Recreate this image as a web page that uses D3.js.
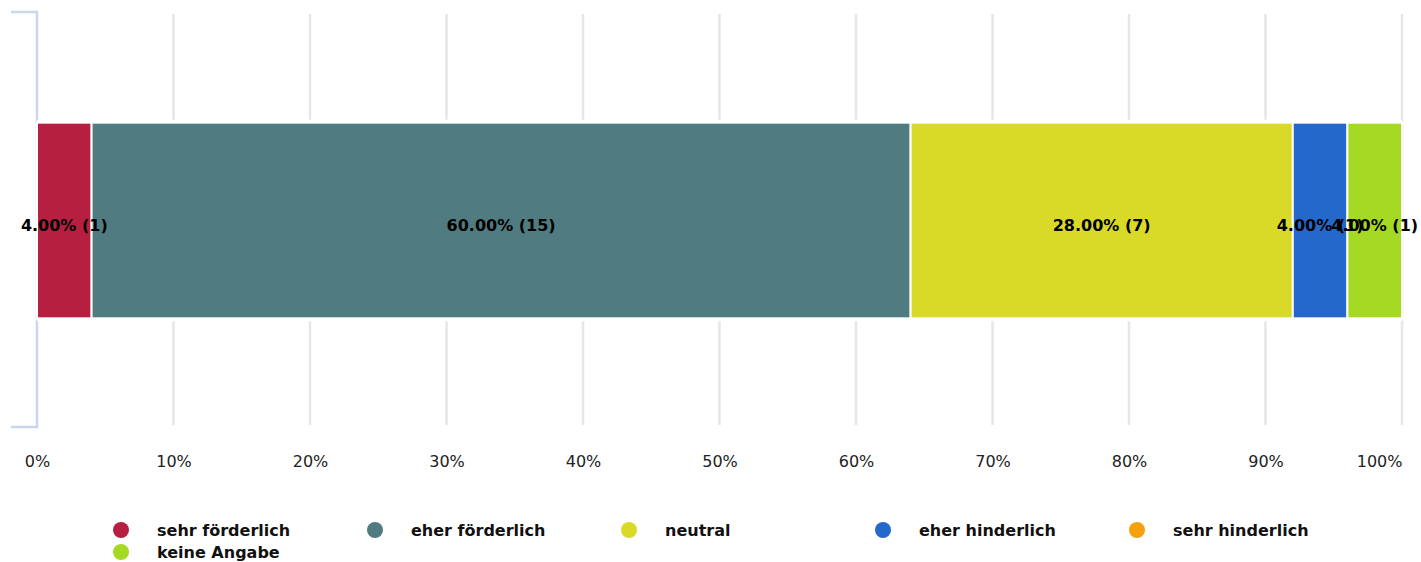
<!DOCTYPE html>
<html lang="de">
<head>
  <meta charset="UTF-8">
  <title>Bewertung</title>
  <script src="https://d3js.org/d3.v7.min.js"></script>
  <style>
    body { margin: 0; font-family: "DejaVu Sans", sans-serif; background: #fff; }
  </style>
</head>
<body>
<svg id="chart" width="1421" height="562"></svg>
<script>
// answer categories, shares (percent) and counts
const categories = ["sehr förderlich", "eher förderlich", "neutral", "eher hinderlich", "sehr hinderlich", "keine Angabe"];
const percents = [4, 60, 28, 4, 0, 4];
const counts = [1, 15, 7, 1, 0, 1];
const colors = ["#b71f40", "#507b80", "#d9da27", "#2468cc", "#f5a00f", "#a6d923"];
const tickValues = [0, 10, 20, 30, 40, 50, 60, 70, 80, 90, 100];

const svg = d3.select("#chart");
const margin = { left: 37, right: 19, top: 15, bottom: 136 };
const width = 1421, height = 562;
const plotBottom = height - margin.bottom; // 426

const x = d3.scaleLinear().domain([0, 100]).range([margin.left, width - margin.right]);
const y = d3.scaleBand().domain(["q"]).range([margin.top, plotBottom]).padding(0.355);

// gridlines
svg.append("g")
  .selectAll("line")
  .data(tickValues.slice(1))
  .enter()
  .append("line")
  .attr("x1", d => x(d)).attr("x2", d => x(d))
  .attr("y1", margin.top - 1).attr("y2", plotBottom - 1)
  .attr("stroke", "#e6e6e6")
  .attr("stroke-width", 2.5);

// category axis line with end ticks
svg.append("path")
  .attr("d", `M11,12H${margin.left}V${plotBottom + 1}H11`)
  .attr("fill", "none")
  .attr("stroke", "#ccd6eb")
  .attr("stroke-width", 2.5);

// stacked segments
let acc = 0;
const segs = percents.map((p, i) => {
  const s = { start: acc, end: acc + p, p, n: counts[i], color: colors[i] };
  acc += p;
  return s;
});

const bar = svg.append("g");
// white halo behind the bar so the gridlines stop short of it
bar.append("rect")
  .attr("x", x(0))
  .attr("width", x(100) - x(0))
  .attr("y", y("q") - 3)
  .attr("height", y.bandwidth() + 6)
  .attr("fill", "#fff");

bar.selectAll("rect.seg")
  .data(segs.filter(d => d.p > 0))
  .enter()
  .append("rect")
  .attr("class", "seg")
  .attr("x", d => x(d.start))
  .attr("width", d => x(d.end) - x(d.start))
  .attr("y", y("q"))
  .attr("height", y.bandwidth())
  .attr("fill", d => d.color)
  .attr("stroke", "#fff")
  .attr("stroke-width", 2);

bar.selectAll("text")
  .data(segs.filter(d => d.p > 0))
  .enter()
  .append("text")
  .attr("x", d => (x(d.start) + x(d.end)) / 2)
  .attr("y", y("q") + y.bandwidth() / 2 + 5)
  .attr("dy", "0.35em")
  .attr("text-anchor", "middle")
  .attr("font-size", 16)
  .attr("font-weight", "bold")
  .attr("fill", "#000")
  .text(d => `${d.p.toFixed(2)}% (${d.n})`);

// x axis labels
const xAxis = d3.axisBottom(x)
  .tickValues(tickValues)
  .tickSize(0)
  .tickPadding(0)
  .tickFormat(d => d + "%");
const gx = svg.append("g")
  .attr("transform", `translate(0,${plotBottom + 30})`)
  .call(xAxis);
gx.select(".domain").remove();
gx.selectAll("text")
  .attr("font-family", "DejaVu Sans, sans-serif")
  .attr("font-size", 16)
  .attr("fill", "#222");
gx.selectAll(".tick:last-of-type text").attr("text-anchor", "end");

// legend
const legend = svg.append("g");
const items = legend.selectAll("g")
  .data(categories)
  .enter()
  .append("g")
  .attr("transform", (d, i) => `translate(${121 + (i % 5) * 254},${530 + Math.floor(i / 5) * 22})`);
items.append("circle")
  .attr("r", 8)
  .attr("fill", (d, i) => colors[i]);
items.append("text")
  .attr("x", 36)
  .attr("dy", "0.35em")
  .attr("font-size", 16)
  .attr("font-weight", "bold")
  .attr("fill", "#111")
  .text(d => d);
</script>
</body>
</html>
